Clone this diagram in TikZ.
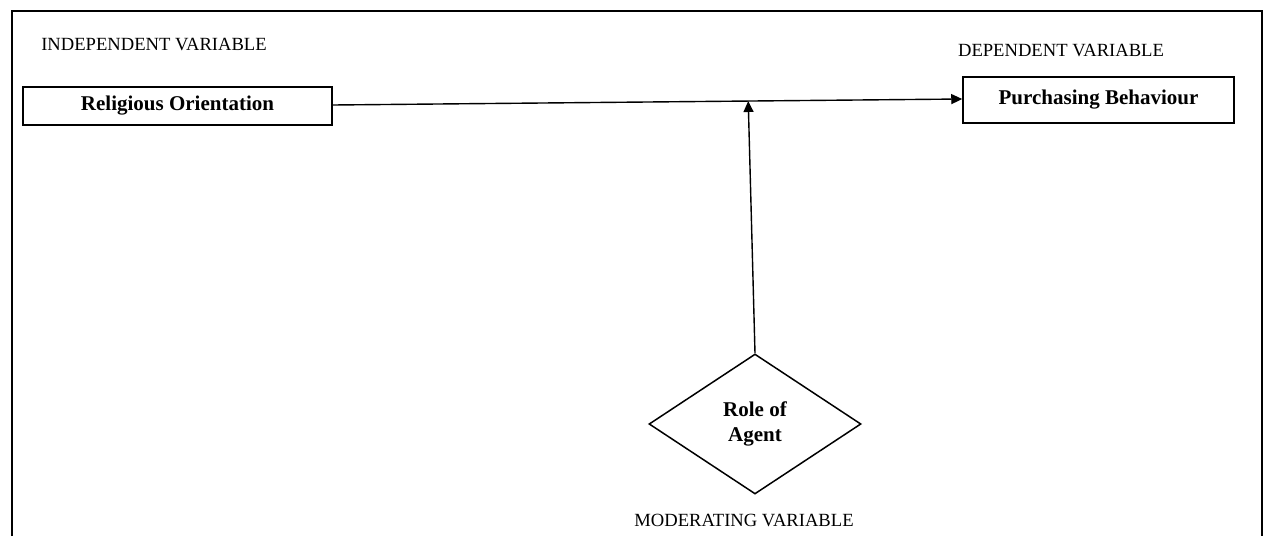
\documentclass[tikz,border=0pt]{standalone}
\usepackage{fontspec}
\setmainfont{Liberation Serif}
\usetikzlibrary{shapes.geometric,arrows.meta,calc}
\begin{document}
\begin{tikzpicture}[x=1pt,y=-1pt,
  varbox/.style={draw,line width=1.5pt,inner sep=0pt,font=\fontsize{21}{25}\selectfont\bfseries},
  varlabel/.style={inner sep=0pt,font=\fontsize{18.6}{22}\selectfont},
  conn/.style={line width=1.4pt,-{Triangle[length=11pt,width=10pt]}}]
\useasboundingbox (0,0) rectangle (1267,536);
\draw[line width=2pt] (12,536) -- (12,11) -- (1262,11) -- (1262,536);
\node[varlabel] (il) at (154,44) {INDEPENDENT VARIABLE};
\node[varlabel] (dl) at (1061,50) {DEPENDENT VARIABLE};
\node[varlabel] (ml) at (744,520) {MODERATING VARIABLE};
\node[varbox,minimum width=309pt,minimum height=38pt] (ro) at (177.5,106) {Religious Orientation};
\node[varbox,minimum width=271pt,minimum height=46pt] (pb) at (1098.5,100) {\raisebox{4pt}{Purchasing Behaviour}};
\node[draw,line width=1.5pt,shape=diamond,minimum width=212pt,minimum height=140pt,inner sep=0pt,align=center,font=\fontsize{21}{25}\selectfont\bfseries] (ra) at (755,424) {Role of\\Agent};
\draw[conn] ([yshift=1pt]ro.east) -- ([yshift=1pt]pb.west);
\coordinate (mid) at ($([yshift=1pt]ro.east)!0.66!([yshift=1pt]pb.west)$);
\draw[conn] (ra.north) -- (mid);
\end{tikzpicture}
\end{document}
